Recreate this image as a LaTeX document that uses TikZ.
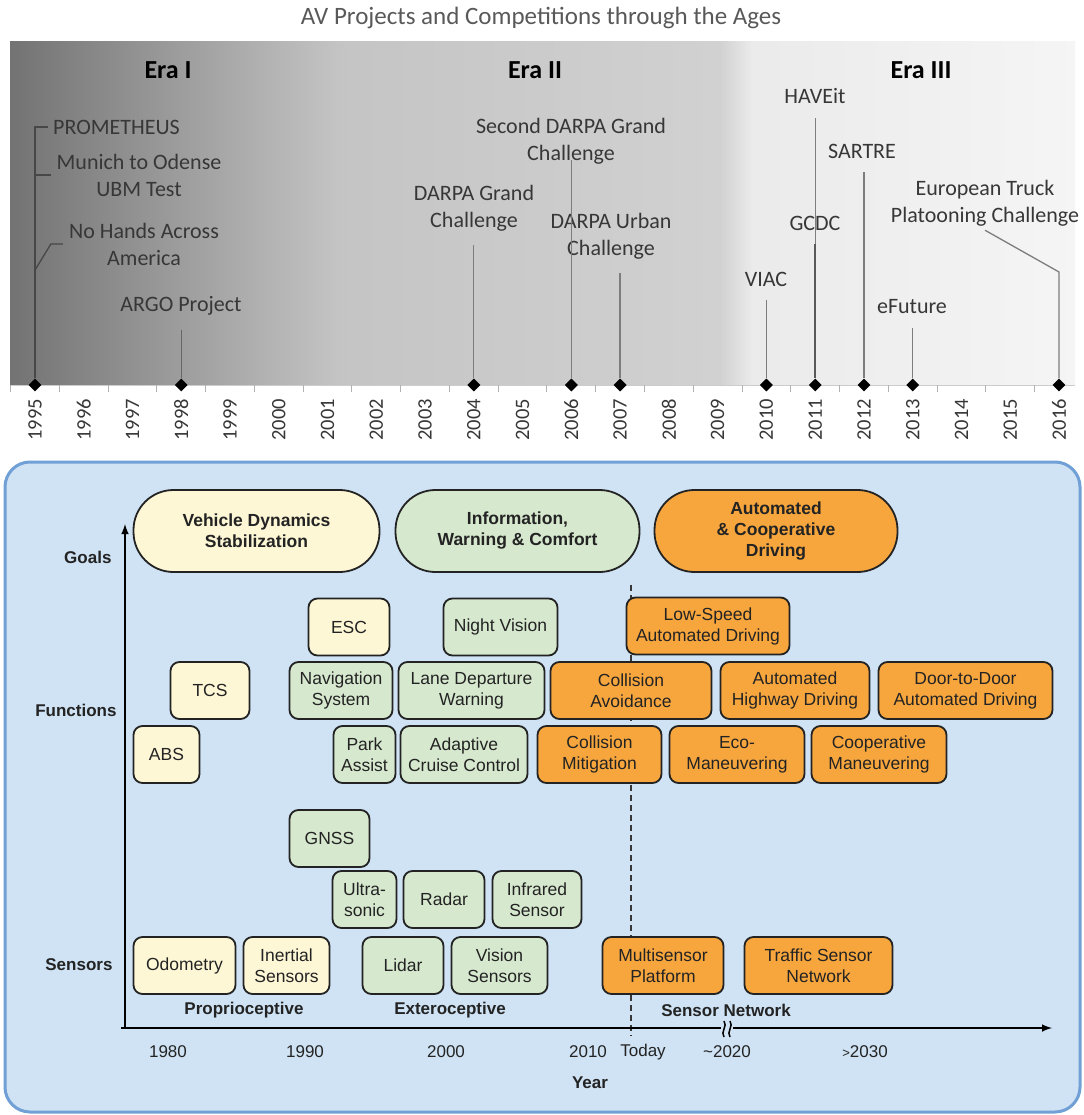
\documentclass[tikz,border=0pt]{standalone}
\usepackage{fontspec}
\setmainfont{Liberation Sans}
\newfontfamily\calib{Carlito}
\usetikzlibrary{shapes.geometric,positioning,arrows}
\definecolor{yelfill}{RGB}{253,247,214}
\definecolor{grnfill}{RGB}{214,232,206}
\definecolor{orgfill}{RGB}{247,166,62}
\definecolor{panelfill}{RGB}{207,227,244}
\definecolor{panelline}{RGB}{112,160,214}
\definecolor{boxline}{RGB}{35,35,35}
\definecolor{txt}{RGB}{35,35,35}
\definecolor{darktxt}{RGB}{55,55,55}
\definecolor{stemgray}{RGB}{125,125,125}
\tikzset{
 lab/.style
  = {font=\calib\fontsize{22}{27}\selectfont, text=darktxt, align=center, inner xsep=2pt, inner ysep=4pt},
 era/.style
  = {font=\calib\fontsize{26}{30}\selectfont\bfseries, text=black},
 stem/.style
  = {draw=stemgray, line width=1.3pt},
 upstem/.style
  = {stem, shorten >=10pt},
 yr/.style
  = {font=\calib\fontsize{20.5}{24}\selectfont, text=darktxt, rotate=90},
 evt/.style
  = {diamond, fill=black, inner sep=0pt, minimum size=13pt},
 pill/.style
  = {draw=boxline, line width=1.8pt, rounded corners=40pt, minimum height=82pt, inner sep=0pt,
     align=center, font=\fontsize{17.5}{21}\selectfont\bfseries, text=txt},
 fn/.style
  = {draw=boxline, line width=1.8pt, rounded corners=9pt, minimum height=57pt, inner sep=0pt,
     align=center, font=\fontsize{17.5}{21}\selectfont, text=txt},
 ax/.style
  = {font=\fontsize{17}{20}\selectfont\bfseries, text=txt},
 tk/.style
  = {font=\fontsize{17}{20}\selectfont, text=txt},
 axisline/.style
  = {draw=black, line width=2.4pt, ->, >=latex},
}

\begin{document}
\begin{tikzpicture}[x=1pt, y=-1pt]
\useasboundingbox (0,0) rectangle (1083,1115);

% Timeline background
\shade[left color=black!55, right color=black!23] (10,42) rectangle (340,385);
\shade[left color=black!23, right color=black!18] (340,42) rectangle (720,385);
\shade[left color=black!18, right color=black!8] (720,42) rectangle (752,385);
\shade[left color=black!8, right color=black!4] (752,42) rectangle (1075,385);
\draw[black!20, line width=1pt] (10,385) -- (1075,385);

\node[font=\calib\fontsize{25}{29}\selectfont, text=black!65] (title) at (541,18) {AV Projects and Competitions through the Ages};

% Eras
\node[era] (era1) at (168,70) {Era I};
\node[era] (era2) at (535,70) {Era II};
\node[era] (era3) at (921,70) {Era III};

% Years and ticks
\foreach \y [count=\i from 0] in {1995,...,2016} {
  \node[yr] (t\y) at ({35+\i*48.76},420) {\y};
  \draw[black!30, line width=1pt] ({10.6+\i*48.76},385) -- ++(0,7);
}

% Events
\foreach \y in {1995,1998,2004,2006,2007,2010,2011,2012,2013,2016}
  \node[evt] (d\y) at ({35+(\y-1995)*48.76},385) {};

\node[lab, anchor=west] (prom) at (51,127) {PROMETHEUS};
\node[lab] (mun) at (139,175) {Munich to Odense\\UBM Test};
\node[lab] (nha) at (144,244) {No Hands Across\\America};
\node[lab] (argo) at (181,306) {ARGO Project};
\node[lab] (dgc) at (474,208) {DARPA Grand\\Challenge};
\node[lab] (sdgc) at (571,141) {Second DARPA Grand\\Challenge};
\node[lab] (duc) at (611,236) {DARPA Urban\\Challenge};
\node[lab] (viac) at (766,279) {VIAC};
\node[lab] (have) at (815,96) {HAVEit};
\node[lab] (gcdc) at (815,223) {GCDC};
\node[lab] (sart) at (862,151) {SARTRE};
\node[lab] (efut) at (912,307) {eFuture};
\node[lab] (etp) at (985,203) {European Truck\\Platooning Challenge};

\coordinate (nhak) at (35,270);
\coordinate (etpk) at (1059,272);

% Stems
\draw[stem, draw=black!72] (d1995) -- (d1995 |- prom.west) -- ([xshift=-3pt]prom.west);
\draw[stem, draw=black!72] (d1995 |- mun.west) -- ([xshift=-3pt]mun.west);
\draw[stem, draw=black!72] ([xshift=-4pt]nha.west) -- ++(-12,0) -- (nhak);
\draw[upstem, draw=black!60] (d1998) -- (d1998 |- argo.south);
\draw[upstem] (d2004) -- (d2004 |- dgc.south);
\draw[stem, shorten >=-8pt] (d2006) -- (d2006 |- sdgc.south);
\draw[upstem] (d2007) -- (d2007 |- duc.south);
\draw[upstem] (d2010) -- (d2010 |- viac.south);
\draw[upstem] (d2011) -- (d2011 |- have.south);
\draw[upstem, draw=black!65, line width=1.8pt] (d2011) -- (d2011 |- gcdc.south);
\draw[upstem] (d2012) -- (d2012 |- sart.south);
\draw[upstem] (d2013) -- (d2013 |- efut.south);
\draw[stem] (d2016) -- (etpk) -- (etp.south);

% Lower panel
\draw[line width=3pt, draw=panelline, fill=panelfill, rounded corners=25pt] (5,462) rectangle (1080,1112);

\coordinate (org) at (125,1028);
\coordinate (ytop) at (125,524);
\coordinate (xend) at (1052,1028);
\coordinate (today) at (631,585);
\coordinate (todayb) at (631,1036);

\draw[darktxt, line width=1.6pt, dash pattern=on 6pt off 4pt] (today) -- (todayb);
\draw[axisline] ([yshift=1pt]org) -- (ytop);
\draw[axisline] ([xshift=-4pt]org) -- (xend);

% Break mark
\fill[panelfill] (721,1020) rectangle (733,1037);
\draw[line width=1.5pt] (724,1021) .. controls (728,1026) and (720,1032) .. (724,1037);
\draw[line width=1.5pt] (730,1021) .. controls (734,1026) and (726,1032) .. (730,1037);

% Axis labels
\node[ax, anchor=east] (goals) at (115,557) {Goals};
\node[ax, anchor=east] (funcs) at (120,710) {Functions};
\node[ax, anchor=east] (sens) at (116,965) {Sensors};

\node[tk] (y1980) at (168,1052) {1980};
\node[tk] (y1990) at (305,1052) {1990};
\node[tk] (y2000) at (446,1052) {2000};
\node[tk] (y2010) at (588,1052) {2010};
\node[tk] (ytoday) at (643,1052) {Today};
\node[tk] (y2020) at (727,1052) {\textasciitilde2020};
\node[tk] (y2030) at (865,1052) {{\fontsize{13}{15}\selectfont >}2030};
\node[ax] (year) at (590,1083) {Year};

\node[ax] (prop) at (244,1010) {Proprioceptive};
\node[ax] (exte) at (450,1010) {Exteroceptive};
\node[ax] (snet) at (726,1010) {Sensor Network};

% Goals
\node[pill, fill=yelfill, minimum width=246pt] (vds) at (256.5,531) {Vehicle Dynamics\\Stabilization};
\node[pill, fill=grnfill, minimum width=244pt] (iwc) at (517.5,531) {Information,\\Warning \& Comfort};
\node[pill, fill=orgfill, minimum width=243pt] (acd) at (776,531) {Automated\\\& Cooperative\\Driving};

% Functions
\node[fn, fill=yelfill, minimum width=81pt] (esc) at (349,627) {ESC};
\node[fn, fill=grnfill, minimum width=114pt] (nv) at (500.5,627) {Night Vision};
\node[fn, fill=orgfill, minimum width=163pt] (lsad) at (708,626) {Low-Speed\\Automated Driving};

\node[fn, fill=yelfill, minimum width=79pt] (tcs) at (210,690.5) {TCS};
\node[fn, fill=grnfill, minimum width=103pt] (nav) at (341,690.5) {Navigation\\System};
\node[fn, fill=grnfill, minimum width=146pt] (ldw) at (471.5,690.5) {Lane Departure\\Warning};
\node[fn, fill=orgfill, minimum width=161pt] (ca) at (631,690.5) {Collision\\Avoidance};
\node[fn, fill=orgfill, minimum width=149pt] (ahd) at (795,690.5) {Automated\\Highway Driving};
\node[fn, fill=orgfill, minimum width=174pt] (d2d) at (965.5,690.5) {Door-to-Door\\Automated Driving};

\node[fn, fill=yelfill, minimum width=66pt] (abs) at (166.5,754.5) {ABS};
\node[fn, fill=grnfill, minimum width=62pt] (pa) at (364.5,754.5) {Park\\Assist};
\node[fn, fill=grnfill, minimum width=127pt] (acc) at (464,754.5) {Adaptive\\Cruise Control};
\node[fn, fill=orgfill, minimum width=124pt] (cm) at (599.5,754.5) {Collision\\Mitigation};
\node[fn, fill=orgfill, minimum width=135pt] (eco) at (737,754.5) {Eco-\\Maneuvering};
\node[fn, fill=orgfill, minimum width=135pt] (coop) at (879,754.5) {Cooperative\\Maneuvering};

% Sensors
\node[fn, fill=grnfill, minimum width=80pt] (gnss) at (329.5,838.5) {GNSS};
\node[fn, fill=grnfill, minimum width=64pt] (us) at (364.5,899.5) {Ultra-\\sonic};
\node[fn, fill=grnfill, minimum width=81pt] (radar) at (444,899.5) {Radar};
\node[fn, fill=grnfill, minimum width=89pt] (ir) at (537,899.5) {Infrared\\Sensor};

\node[fn, fill=yelfill, minimum width=102pt] (odo) at (184.5,965.5) {Odometry};
\node[fn, fill=yelfill, minimum width=86pt] (ins) at (286.5,965.5) {Inertial\\Sensors};
\node[fn, fill=grnfill, minimum width=81pt] (lidar) at (403,965.5) {Lidar};
\node[fn, fill=grnfill, minimum width=96pt] (vis) at (499.5,965.5) {Vision\\Sensors};
\node[fn, fill=orgfill, minimum width=121pt] (msp) at (663,965.5) {Multisensor\\Platform};
\node[fn, fill=orgfill, minimum width=148pt] (tsn) at (818.5,965.5) {Traffic Sensor\\Network};

\end{tikzpicture}
\end{document}
